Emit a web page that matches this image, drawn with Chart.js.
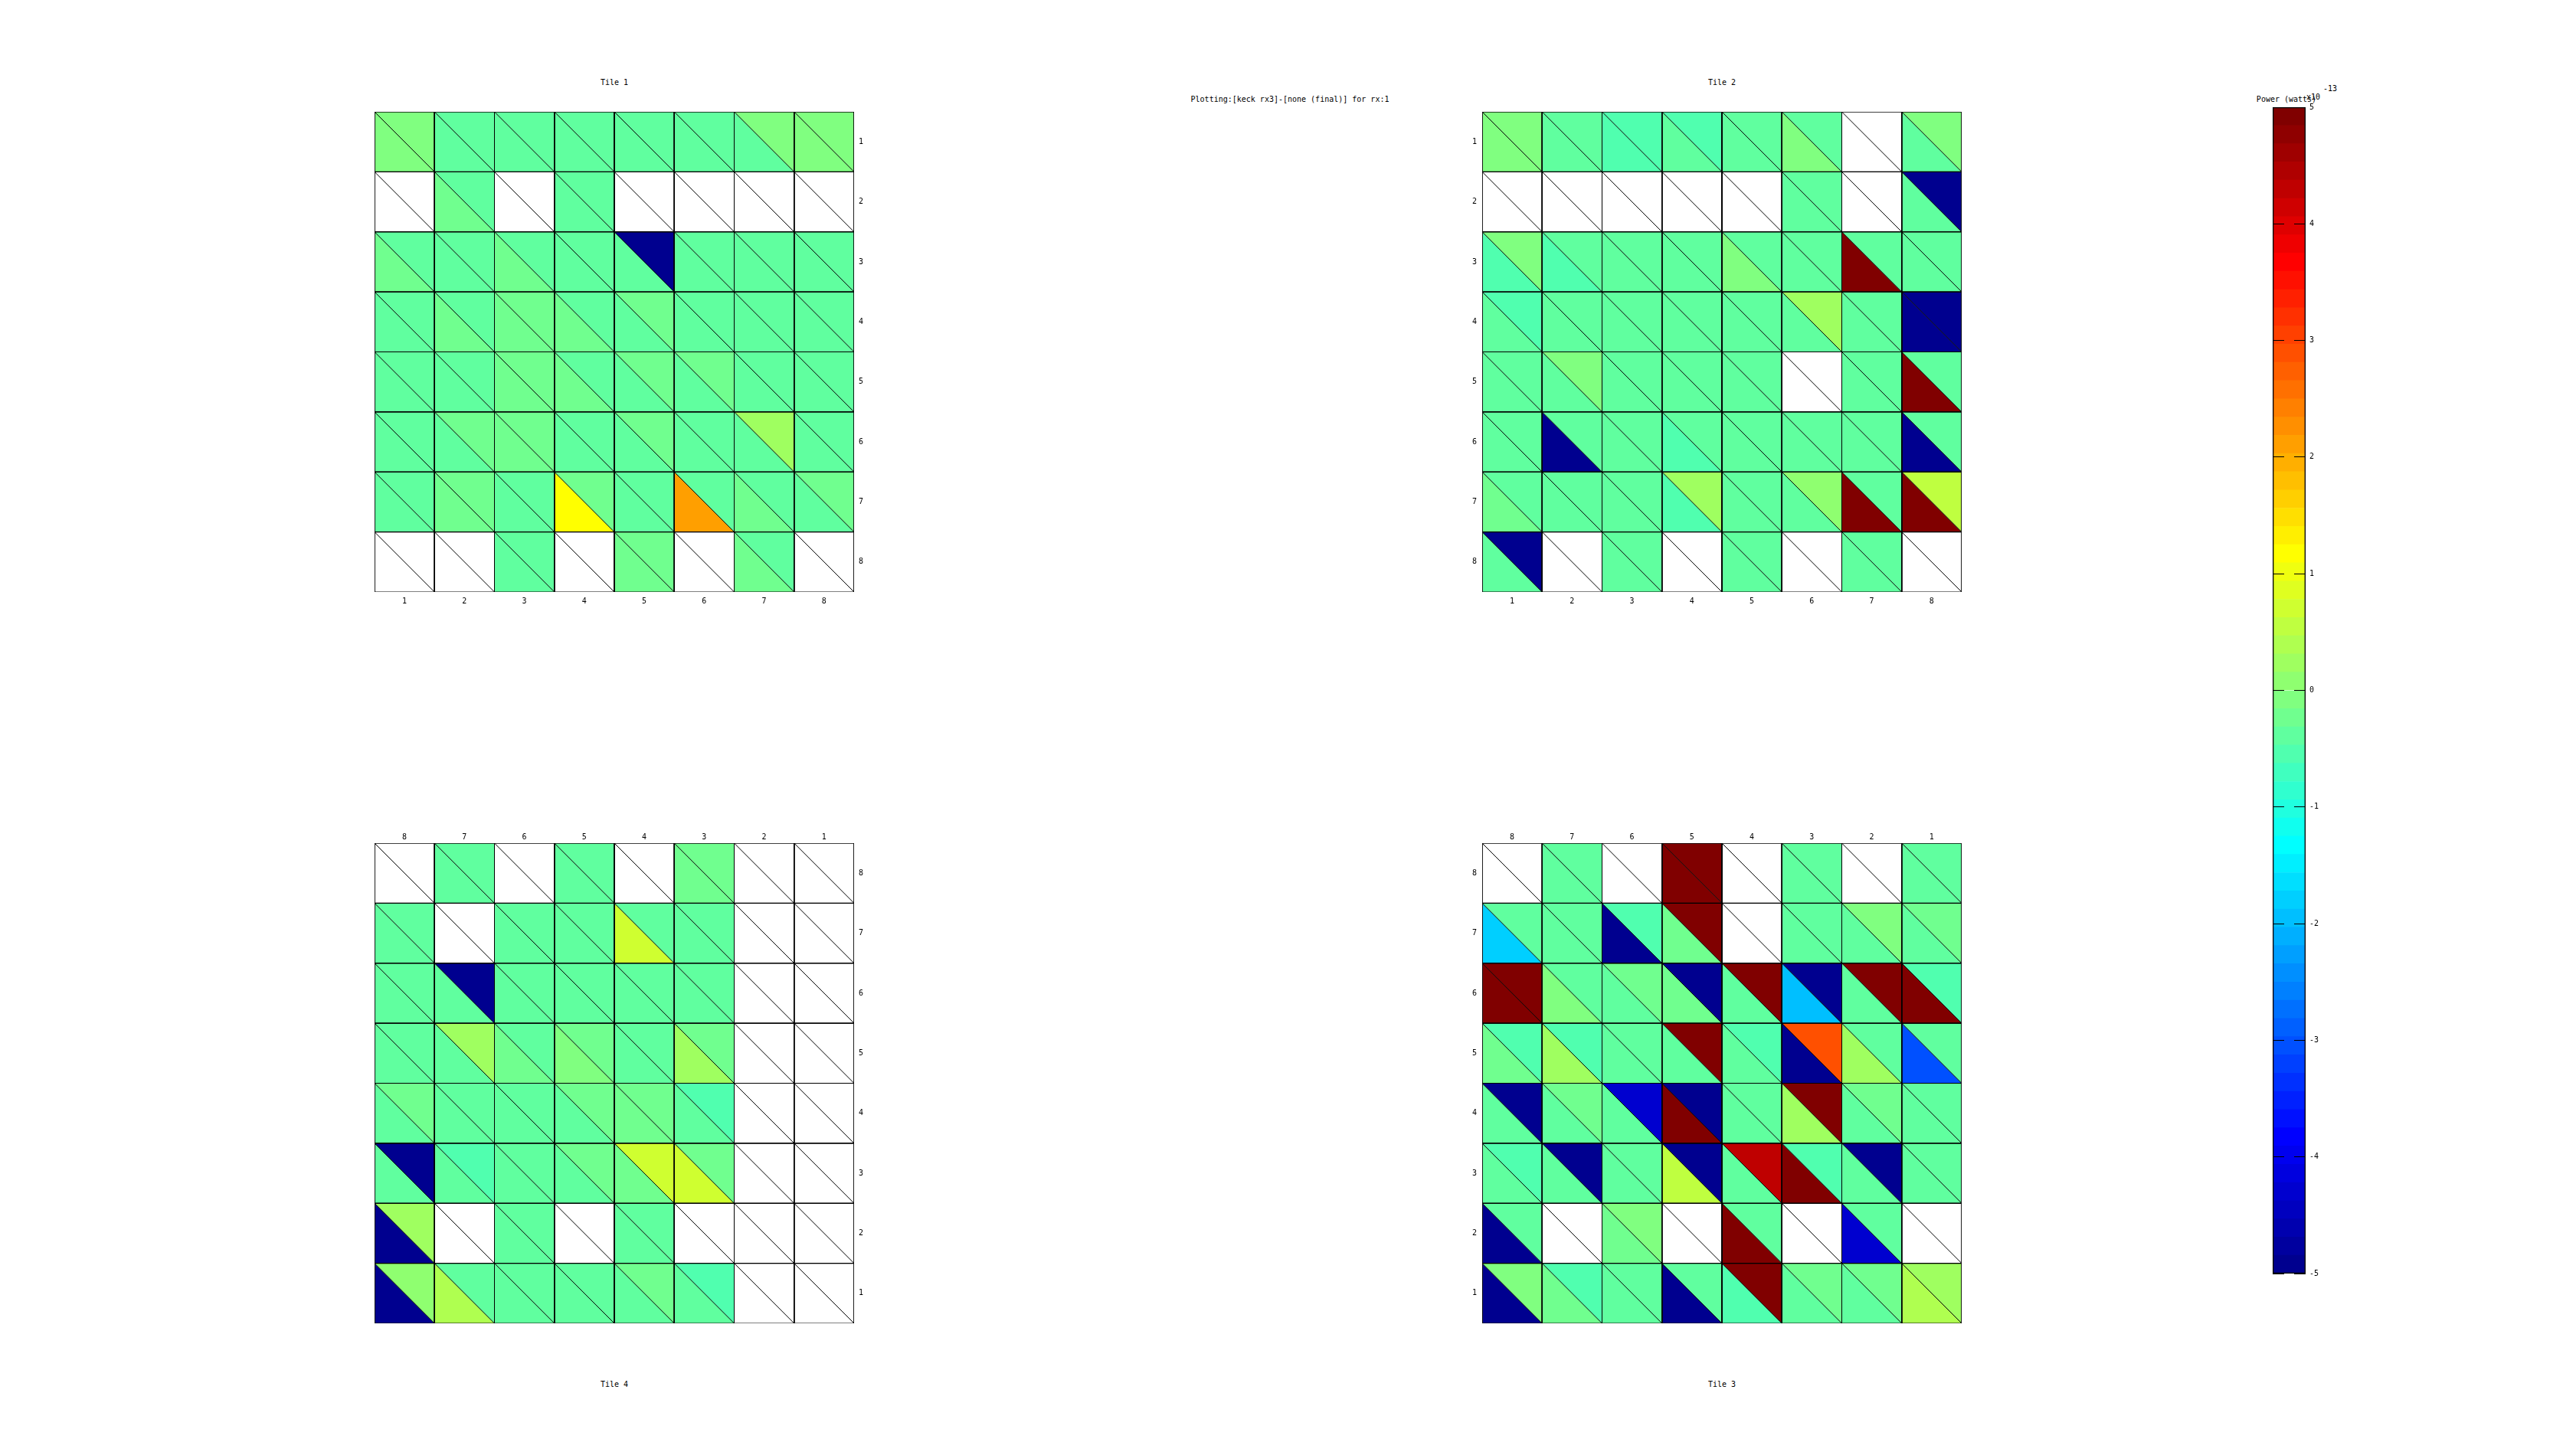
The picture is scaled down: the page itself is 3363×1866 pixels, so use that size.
<!DOCTYPE html>
<html><head><meta charset="utf-8">
<script src="https://cdn.jsdelivr.net/npm/chart.js@4/dist/chart.umd.min.js"></script>
<style>
html,body{margin:0;padding:0;background:#fff;}
body{width:3363px;height:1866px;position:relative;overflow:hidden;font-family:'DejaVu Sans Mono',monospace;}
.t{position:absolute;font-size:10px;line-height:10px;white-space:pre;color:#000;transform:translate(-50%,-50%);}
.l{position:absolute;font-size:10px;line-height:10px;white-space:pre;color:#000;transform:translate(0,-50%);}
canvas{position:absolute;}
</style></head><body>
<div class="t" style="left:1684px;top:130px">Plotting:[keck rx3]-[none (final)] for rx:1</div>
<div class="t" style="left:802px;top:108px">Tile 1</div>
<div class="t" style="left:2248px;top:108px">Tile 2</div>
<div class="t" style="left:802px;top:1808px">Tile 4</div>
<div class="t" style="left:2248px;top:1808px">Tile 3</div>
<div class="t" style="left:2985px;top:130px">Power (watts)</div>
<div class="l" style="left:3011px;top:127px">x10</div>
<div class="l" style="left:3033px;top:116px">-13</div>
<script>
// ---------------- data (values in units of 1e-13 W; null = no data) ----------------
// rows listed top -> bottom as displayed, columns left -> right as displayed
const tile1XLabels = [1, 2, 3, 4, 5, 6, 7, 8];
const tile1YLabels = [1, 2, 3, 4, 5, 6, 7, 8];
const tile1Upper = [
  [-0.08, -0.39, -0.39, -0.39, -0.39, -0.39, -0.08, -0.08],
  [null, -0.39, null, -0.39, null, null, null, null],
  [-0.39, -0.39, -0.39, -0.39, -5.0, -0.39, -0.39, -0.39],
  [-0.39, -0.39, -0.23, -0.39, -0.23, -0.39, -0.39, -0.39],
  [-0.39, -0.39, -0.23, -0.39, -0.23, -0.23, -0.39, -0.39],
  [-0.39, -0.23, -0.23, -0.39, -0.23, -0.39, 0.23, -0.39],
  [-0.39, -0.23, -0.39, -0.23, -0.39, -0.39, -0.39, -0.23],
  [null, null, -0.39, null, -0.23, null, -0.39, null]
];
const tile1Lower = [
  [-0.08, -0.39, -0.39, -0.39, -0.39, -0.39, -0.39, -0.08],
  [null, -0.23, null, -0.39, null, null, null, null],
  [-0.23, -0.39, -0.23, -0.39, -0.39, -0.39, -0.39, -0.39],
  [-0.39, -0.23, -0.23, -0.23, -0.39, -0.39, -0.39, -0.39],
  [-0.39, -0.39, -0.23, -0.23, -0.39, -0.39, -0.39, -0.39],
  [-0.39, -0.39, -0.23, -0.39, -0.39, -0.39, -0.39, -0.39],
  [-0.39, -0.23, -0.39, 1.17, -0.39, 2.11, -0.23, -0.39],
  [null, null, -0.39, null, -0.23, null, -0.23, null]
];

const tile2XLabels = [1, 2, 3, 4, 5, 6, 7, 8];
const tile2YLabels = [1, 2, 3, 4, 5, 6, 7, 8];
const tile2Upper = [
  [-0.08, -0.39, -0.55, -0.55, -0.39, -0.39, null, -0.08],
  [null, null, null, null, null, -0.39, null, -5.0],
  [-0.08, -0.39, -0.39, -0.39, -0.39, -0.39, -0.39, -0.39],
  [-0.55, -0.39, -0.39, -0.39, -0.39, 0.23, -0.39, -5.0],
  [-0.39, -0.08, -0.39, -0.39, -0.39, null, -0.39, -0.39],
  [-0.39, -0.39, -0.39, -0.39, -0.39, -0.39, -0.39, -0.39],
  [-0.39, -0.39, -0.39, 0.23, -0.39, 0.08, -0.39, 0.55],
  [-5.0, null, -0.39, null, -0.39, null, -0.39, null]
];
const tile2Lower = [
  [-0.08, -0.39, -0.55, -0.39, -0.39, -0.08, null, -0.39],
  [null, null, null, null, null, -0.39, null, -0.39],
  [-0.55, -0.55, -0.39, -0.39, -0.08, -0.39, 5.0, -0.39],
  [-0.39, -0.39, -0.39, -0.39, -0.39, -0.39, -0.39, -5.0],
  [-0.39, -0.39, -0.39, -0.39, -0.39, null, -0.39, 5.0],
  [-0.39, -5.0, -0.39, -0.55, -0.39, -0.39, -0.39, -5.0],
  [-0.23, -0.39, -0.39, -0.55, -0.39, -0.39, 5.0, 5.0],
  [-0.39, null, -0.39, null, -0.39, null, -0.39, null]
];

const tile4XLabels = [8, 7, 6, 5, 4, 3, 2, 1];
const tile4YLabels = [8, 7, 6, 5, 4, 3, 2, 1];
const tile4Upper = [
  [null, -0.39, null, -0.39, null, -0.23, null, null],
  [-0.39, null, -0.39, -0.39, -0.39, -0.39, null, null],
  [-0.39, -5.0, -0.39, -0.39, -0.39, -0.39, null, null],
  [-0.39, 0.23, -0.39, -0.23, -0.39, -0.23, null, null],
  [-0.23, -0.39, -0.39, -0.23, -0.23, -0.55, null, null],
  [-5.0, -0.55, -0.39, -0.23, 0.70, -0.23, null, null],
  [0.23, null, -0.39, null, -0.39, null, null, null],
  [0.08, -0.39, -0.39, -0.39, -0.23, -0.55, null, null]
];
const tile4Lower = [
  [null, -0.39, null, -0.39, null, -0.23, null, null],
  [-0.39, null, -0.39, -0.39, 0.70, -0.39, null, null],
  [-0.39, -0.39, -0.39, -0.39, -0.39, -0.39, null, null],
  [-0.39, -0.39, -0.23, -0.08, -0.39, 0.23, null, null],
  [-0.39, -0.39, -0.39, -0.39, -0.23, -0.39, null, null],
  [-0.39, -0.39, -0.39, -0.39, -0.23, 0.70, null, null],
  [-5.0, null, -0.39, null, -0.39, null, null, null],
  [-5.0, 0.39, -0.39, -0.39, -0.39, -0.39, null, null]
];

const tile3XLabels = [8, 7, 6, 5, 4, 3, 2, 1];
const tile3YLabels = [8, 7, 6, 5, 4, 3, 2, 1];
const tile3Upper = [
  [null, -0.39, null, 5.0, null, -0.39, null, -0.39],
  [-0.39, -0.39, -0.55, 5.0, null, -0.39, -0.08, -0.23],
  [5.0, -0.39, -0.23, -5.0, 5.0, -5.0, 5.0, -0.55],
  [-0.55, -0.55, -0.39, 5.0, -0.55, 2.89, -0.39, -0.39],
  [-5.0, -0.23, -4.30, -5.0, -0.39, 5.0, -0.23, -0.39],
  [-0.55, -5.0, -0.39, -5.0, 4.30, -0.55, -5.0, -0.39],
  [-0.39, null, -0.08, null, -0.39, null, -0.39, null],
  [-0.08, -0.55, -0.39, -0.39, 5.0, -0.23, -0.23, 0.23]
];
const tile3Lower = [
  [null, -0.39, null, 5.0, null, -0.39, null, -0.39],
  [-1.80, -0.39, -5.0, -0.23, null, -0.39, -0.39, -0.39],
  [5.0, -0.08, -0.39, -0.23, -0.39, -1.95, -0.39, 5.0],
  [-0.23, 0.23, -0.39, -0.39, -0.39, -5.0, 0.23, -3.05],
  [-0.39, -0.39, -0.39, 5.0, -0.39, 0.23, -0.39, -0.39],
  [-0.39, -0.39, -0.39, 0.55, -0.39, 5.0, -0.39, -0.39],
  [-5.0, null, -0.23, null, 5.0, null, -4.30, null],
  [-5.0, -0.23, -0.39, -5.0, -0.55, -0.39, -0.39, 0.39]
];

const colorbarTicks = [-5, -4, -3, -2, -1, 0, 1, 2, 3, 4, 5];
const colorMin = -5, colorMax = 5, colorLevels = 64;

// ---------------- helpers ----------------
const FONT = {family: "'DejaVu Sans Mono', monospace", size: 10};
Chart.defaults.animation = false;
Chart.defaults.font.family = FONT.family;

function jet64(i) { // i in 1..64, MATLAB jet(64)
  let r, g, b;
  r = i <= 24 ? 0 : i <= 40 ? (i - 24) / 16 : i <= 56 ? 1 : (72 - i) / 16;
  g = i <= 8 ? 0 : i <= 24 ? (i - 8) / 16 : i <= 39 ? 1 : i <= 55 ? (56 - i) / 16 : 0;
  b = i <= 8 ? (i + 8) / 16 : i <= 23 ? 1 : i <= 39 ? (40 - i) / 16 : 0;
  return 'rgb(' + Math.round(r * 255) + ',' + Math.round(g * 255) + ',' + Math.round(b * 255) + ')';
}
function colorFor(v) {
  if (v === null || v === undefined) return '#ffffff';
  let idx = Math.floor((v - colorMin) / (colorMax - colorMin) * colorLevels) + 1;
  idx = Math.max(1, Math.min(colorLevels, idx));
  return jet64(idx);
}
function triDataset(points, v) {
  return {data: points, backgroundColor: colorFor(v), borderColor: '#000', borderWidth: 1,
    fill: 'shape', pointRadius: 0, pointHoverRadius: 0, tension: 0, spanGaps: true};
}
function zeroPad(s) { s.paddingLeft = 0; s.paddingRight = 0; s.paddingTop = 0; s.paddingBottom = 0; }

function makeTile(xLabels, yLabels, upper, lower, box, xPos, yPos) {
  const PAD = 10, AXW = 40, AXH = 30;
  const W = PAD * 2 + box.w + AXW, H = PAD * 2 + box.h + AXH;
  const caLeft = PAD + (yPos === 'left' ? AXW : 0);
  const caTop = PAD + (xPos === 'top' ? AXH : 0);
  const canvas = document.createElement('canvas');
  canvas.width = W; canvas.height = H;
  canvas.style.left = (box.x - caLeft) + 'px';
  canvas.style.top = (box.y - caTop) + 'px';
  canvas.style.width = W + 'px'; canvas.style.height = H + 'px';
  document.body.appendChild(canvas);
  const xRev = xLabels[0] > xLabels[xLabels.length - 1];
  const yRev = yLabels[0] < yLabels[yLabels.length - 1];
  const datasets = [];
  for (let i = 0; i < yLabels.length; i++) {
    for (let j = 0; j < xLabels.length; j++) {
      const cx = xLabels[j], cy = yLabels[i];
      const xl = xRev ? cx + 0.5 : cx - 0.5, xr = xRev ? cx - 0.5 : cx + 0.5;
      const yt = yRev ? cy - 0.5 : cy + 0.5, yb = yRev ? cy + 0.5 : cy - 0.5;
      const TL = {x: xl, y: yt}, TR = {x: xr, y: yt}, BR = {x: xr, y: yb}, BL = {x: xl, y: yb};
      // upper-right triangle: outlines top, right and the diagonal
      datasets.push(triDataset([TL, TR, BR, TL, TR], upper[i][j]));
      // lower-left triangle: outlines left and bottom (diagonal already drawn once)
      datasets.push(triDataset([TL, BL, BR], lower[i][j]));
    }
  }
  const sortedX = xLabels.slice().sort((a, b) => a - b);
  const sortedY = yLabels.slice().sort((a, b) => a - b);
  return new Chart(canvas, {
    type: 'line',
    data: {datasets},
    options: {
      responsive: false, animation: false, events: [],
      layout: {padding: PAD},
      plugins: {legend: {display: false}, tooltip: {enabled: false}, filler: {drawTime: 'beforeDatasetsDraw'}},
      scales: {
        x: {type: 'linear', position: xPos, min: 0.5, max: 8.5, reverse: xRev,
          afterBuildTicks: s => { s.ticks = sortedX.map(v => ({value: v})); },
          ticks: {callback: v => String(v), font: FONT, color: '#000', padding: xPos === 'bottom' ? 13 : 9, autoSkip: false, maxRotation: 0},
          grid: {display: true, drawOnChartArea: false, drawTicks: true, tickLength: -7, tickColor: '#000', tickWidth: 1, color: '#000'},
          border: {display: false},
          afterFit: s => { s.height = AXH; zeroPad(s); }},
        y: {type: 'linear', position: yPos, min: 0.5, max: 8.5, reverse: yRev,
          afterBuildTicks: s => { s.ticks = sortedY.map(v => ({value: v})); },
          ticks: {callback: v => String(v), font: FONT, color: '#000', padding: yPos === 'right' ? 12 : 13, autoSkip: false},
          grid: {display: true, drawOnChartArea: false, drawTicks: true, tickLength: -6, tickColor: '#000', tickWidth: 1, color: '#000'},
          border: {display: false},
          afterFit: s => { s.width = AXW; zeroPad(s); }}
      }
    }
  });
}

function makeColorbar(box) {
  const PAD = 10, AXW = 40;
  const W = PAD * 2 + box.w + AXW, H = PAD * 2 + box.h;
  const canvas = document.createElement('canvas');
  canvas.width = W; canvas.height = H;
  canvas.style.left = (box.x - PAD) + 'px';
  canvas.style.top = (box.y - PAD) + 'px';
  canvas.style.width = W + 'px'; canvas.style.height = H + 'px';
  document.body.appendChild(canvas);
  const step = (colorMax - colorMin) / colorLevels;
  const datasets = [{data: [[colorMin, colorMax]], backgroundColor: 'rgba(0,0,0,0)', borderColor: '#000',
    borderWidth: 1, borderSkipped: false, grouped: false, barPercentage: 1, categoryPercentage: 1}];
  for (let i = 1; i <= colorLevels; i++) {
    datasets.push({data: [[colorMin + (i - 1) * step, colorMin + i * step]], backgroundColor: jet64(i),
      borderWidth: 0, grouped: false, barPercentage: 1, categoryPercentage: 1});
  }
  return new Chart(canvas, {
    type: 'bar',
    data: {labels: [''], datasets},
    options: {
      responsive: false, animation: false, events: [],
      layout: {padding: PAD},
      plugins: {legend: {display: false}, tooltip: {enabled: false}},
      scales: {
        x: {type: 'category', display: false},
        y: {type: 'linear', position: 'right', min: colorMin, max: colorMax,
          afterBuildTicks: s => { s.ticks = colorbarTicks.map(v => ({value: v})); },
          ticks: {callback: v => String(v), font: FONT, color: '#000', padding: 5, autoSkip: false},
          grid: {display: true, drawOnChartArea: true, drawTicks: false, color: '#000', lineWidth: 1, z: 1},
          border: {display: false, dash: [15, 13]},
          afterFit: s => { s.width = AXW; zeroPad(s); }}
      }
    }
  });
}

makeTile(tile1XLabels, tile1YLabels, tile1Upper, tile1Lower, {x: 489, y: 146, w: 626, h: 627}, 'bottom', 'right');
makeTile(tile2XLabels, tile2YLabels, tile2Upper, tile2Lower, {x: 1935, y: 146, w: 626, h: 627}, 'bottom', 'left');
makeTile(tile4XLabels, tile4YLabels, tile4Upper, tile4Lower, {x: 489, y: 1101, w: 626, h: 627}, 'top', 'right');
makeTile(tile3XLabels, tile3YLabels, tile3Upper, tile3Lower, {x: 1935, y: 1101, w: 626, h: 627}, 'top', 'left');
makeColorbar({x: 2967, y: 140, w: 43, h: 1523});
</script>
</body></html>
